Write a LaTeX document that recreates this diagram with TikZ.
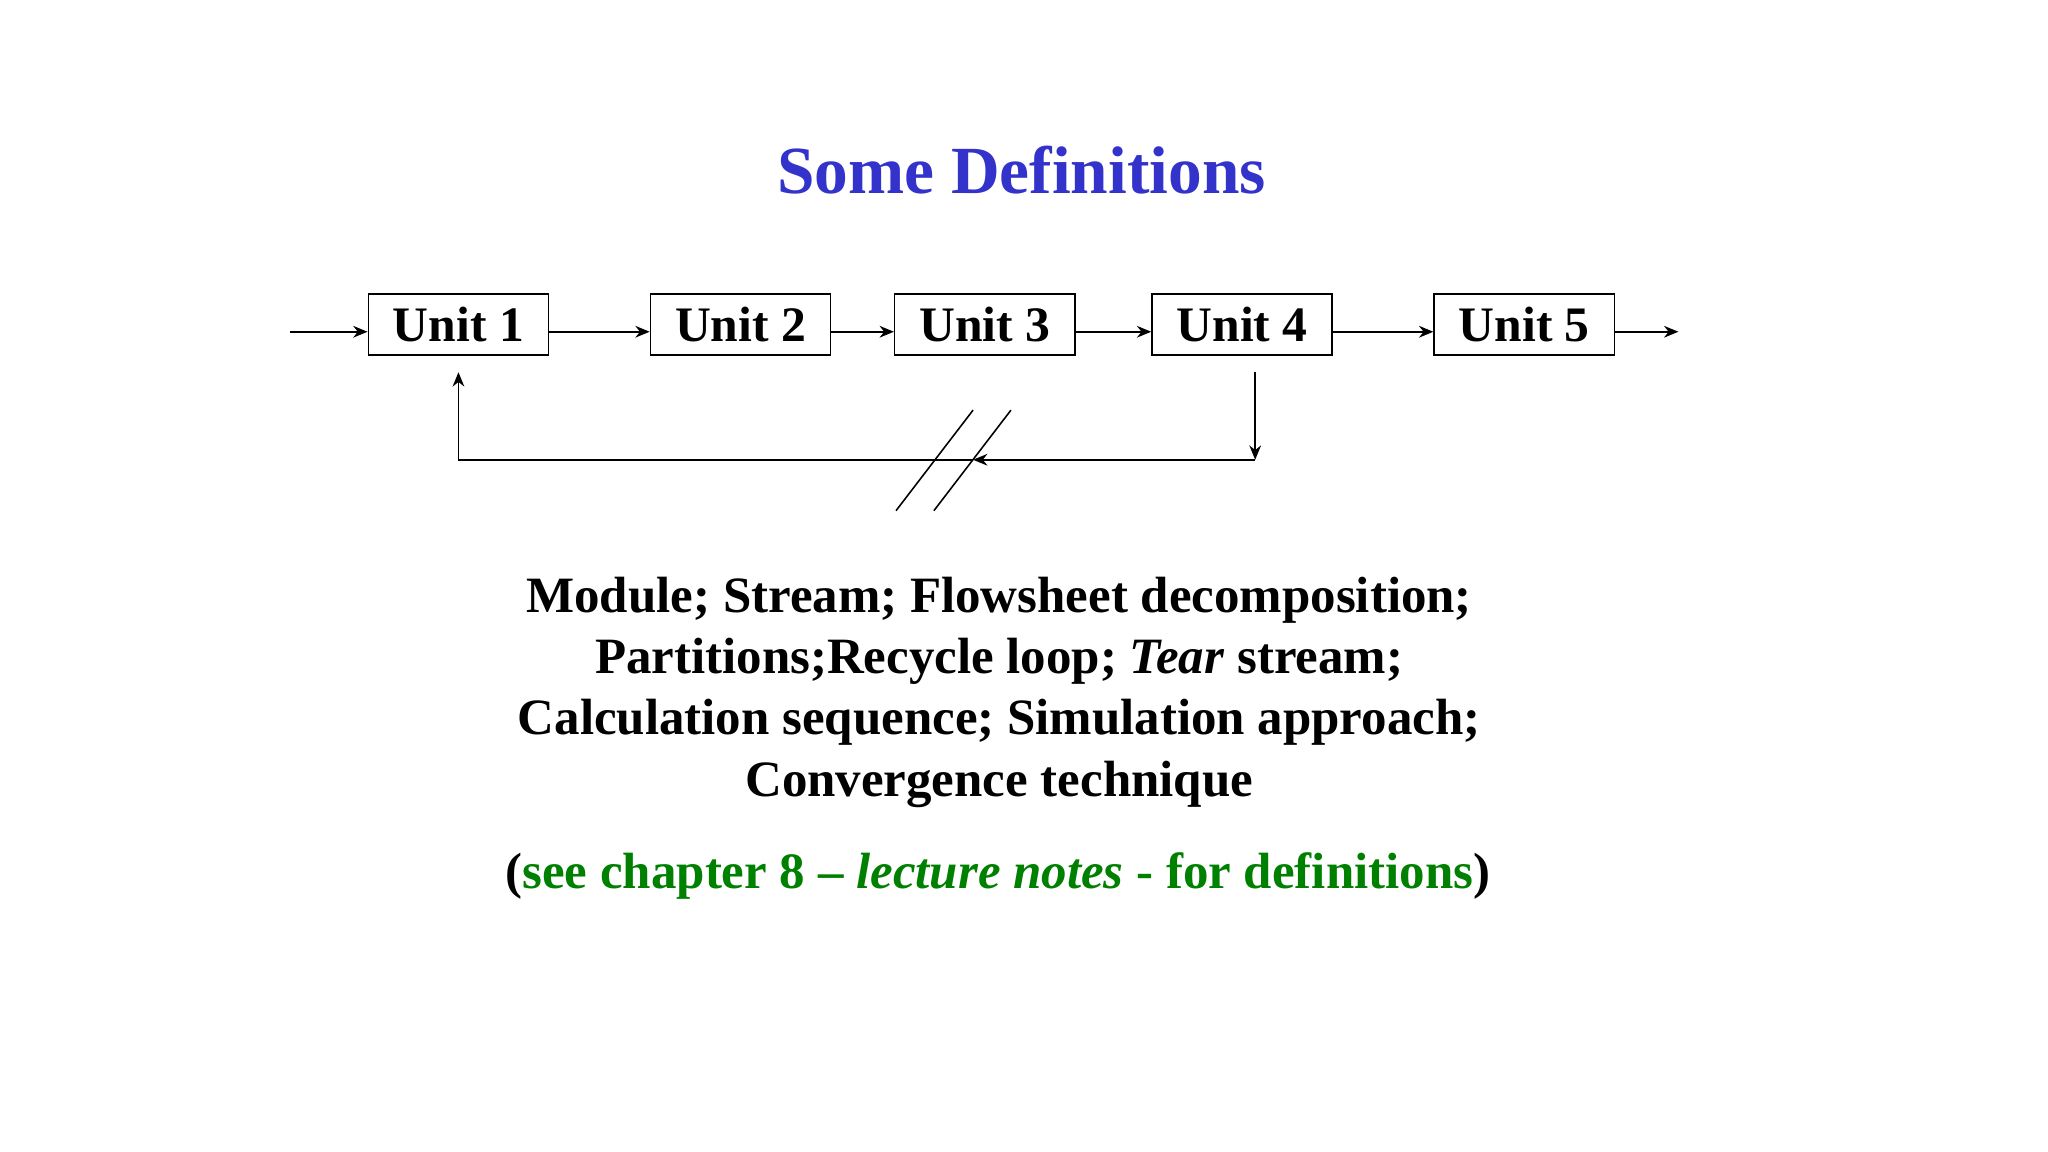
\documentclass[tikz,border=0pt]{standalone}
\usepackage{fontspec}
\setmainfont{Liberation Serif}
\usetikzlibrary{arrows.meta}
\definecolor{titleblue}{RGB}{51,51,204}
\definecolor{defgreen}{RGB}{0,128,0}
\begin{document}
\begin{tikzpicture}[x=0.5pt,y=-0.5pt,
  unitbox/.style={draw,line width=0.6pt,minimum width=69pt,minimum height=23.5pt,inner sep=0pt,font=\fontsize{19}{22}\selectfont\bfseries},
  flow/.style={line width=0.6pt,-{Stealth[length=5.5pt,width=4.5pt]}},
  body/.style={font=\fontsize{19.5}{23.5}\selectfont\bfseries,align=center}]
\useasboundingbox (0,0) rectangle (1568,882);
\node[font=\fontsize{25.8}{30}\selectfont\bfseries,text=titleblue] (title) at (782,130) {Some Definitions};
\node[unitbox] (u1) at (351,248.5) {Unit 1};
\node[unitbox] (u2) at (567,248.5) {Unit 2};
\node[unitbox] (u3) at (754,248.5) {Unit 3};
\node[unitbox] (u4) at (951,248.5) {Unit 4};
\node[unitbox] (u5) at (1167,248.5) {Unit 5};
\coordinate (in) at (222,254);
\coordinate (out) at (1285,254);
\draw[flow] (in) -- (in -| u1.west);
\draw[flow] (u1.east |- in) -- (u2.west |- in);
\draw[flow] (u2.east |- in) -- (u3.west |- in);
\draw[flow] (u3.east |- in) -- (u4.west |- in);
\draw[flow] (u4.east |- in) -- (u5.west |- in);
\draw[flow] (u5.east |- in) -- (out);
\coordinate (a) at (961,285);
\coordinate (b) at (961,352);
\coordinate (m) at (745,352);
\coordinate (c) at (351,352);
\coordinate (d) at (351,285);
\draw[flow] (a) -- (b);
\draw[flow] (b) -- (m);
\draw[line width=0.6pt] (m) -- (c);
\draw[flow] (c) -- (d);
\draw[line width=0.6pt] (686,391) -- (745,314) (715,391) -- (774,314);
\node[body] (defs) at (765,530) {Module; Stream; Flowsheet decomposition;\\
Partitions;Recycle loop; \textit{Tear} stream;\\
Calculation sequence; Simulation approach;\\
Convergence technique};
\node[body] (see) at (764,671) {(\textcolor{defgreen}{see chapter 8 -- \textit{lecture notes} - for definitions})};
\end{tikzpicture}
\end{document}
